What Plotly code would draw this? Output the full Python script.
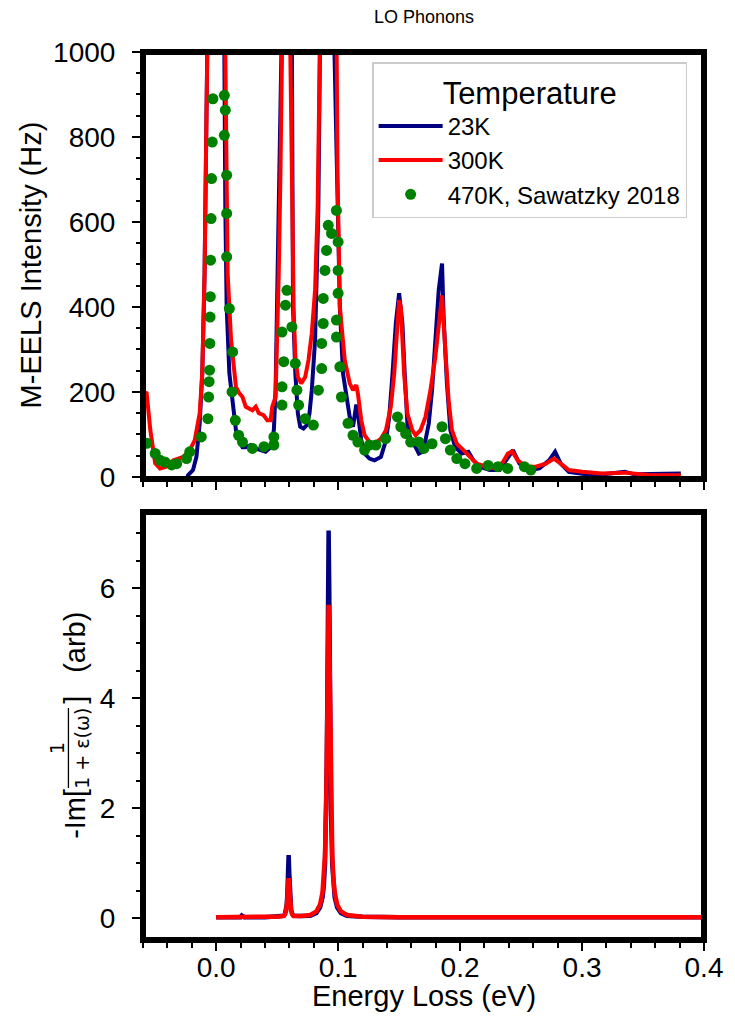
import plotly.graph_objects as go

# ---------------- data ----------------
# M-EELS spectrum, 23 K
e23 = [-0.026, -0.023, -0.019, -0.0162, -0.0135, -0.0114, -0.0095, -0.0081, -0.0065, -0.003, 0.0,
       0.003, 0.0055, 0.0067, 0.0075, 0.0086, 0.0108, 0.0135, 0.0162, 0.0189, 0.0216, 0.0243,
       0.0284, 0.0324, 0.0365, 0.0405, 0.0446, 0.0473, 0.0487, 0.0500, 0.0519, 0.0535, 0.0555,
       0.0578, 0.0600, 0.0621, 0.0630, 0.0649, 0.0670, 0.0689, 0.0716, 0.0743, 0.0765, 0.0784,
       0.0811, 0.0838, 0.0866, 0.0895, 0.0920, 0.0945, 0.0970, 0.0995, 0.1014, 0.1040, 0.1068,
       0.1095, 0.1122, 0.1149, 0.1162, 0.1190, 0.1217, 0.1257, 0.1298, 0.1351, 0.1392, 0.1419,
       0.1446, 0.1473, 0.1500, 0.1527, 0.1546, 0.1568, 0.1595, 0.1635, 0.1662, 0.1690, 0.1716,
       0.1743, 0.1770, 0.1797, 0.1825, 0.1852, 0.1865, 0.1892, 0.1920, 0.1960, 0.2014, 0.2068,
       0.2109, 0.2162, 0.2243, 0.2325, 0.2379, 0.2433, 0.2487, 0.2568, 0.2650, 0.2730, 0.2779,
       0.2825, 0.2892, 0.3028, 0.3180, 0.3350, 0.3430, 0.3700, 0.3810]
i23 = [-20, 4, 16, 47, 126, 244, 480, 790, 1200, 2500, 3000,
       2400, 1250, 1000, 635, 400, 244, 165, 110, 86, 70, 70,
       75, 67, 63, 59, 70, 110, 204, 400, 714, 1000, 1600,
       2000, 1600, 1000, 400, 244, 149, 118, 114, 122, 149, 204,
       322, 635, 1000, 2500, 3000, 2500, 1000, 600, 400, 243, 196,
       141, 118, 170, 149, 86, 55, 43, 39, 47, 86, 141,
       243, 361, 432, 361, 243, 125, 86, 70, 55, 59, 86,
       125, 204, 322, 440, 502, 376, 220, 110, 70, 55, 59,
       39, 24, 16, 16, 39, 63, 31, 16, 20, 39, 59,
       31, 12, 6, 6, 12, 6, 6, 8]

# M-EELS spectrum, 300 K
e300 = [-0.060, -0.057, -0.054, -0.050, -0.046, -0.041, -0.035, -0.027, -0.0217, -0.0176, -0.0135,
        -0.0114, -0.0095, -0.0081, -0.0073, -0.004, 0.0, 0.004, 0.0075, 0.0086, 0.0094, 0.0122,
        0.0148, 0.0162, 0.0189, 0.0216, 0.0243, 0.0270, 0.0297, 0.0324, 0.0350, 0.0390, 0.0419,
        0.0446, 0.0460, 0.0487, 0.0500, 0.0513, 0.0527, 0.0540, 0.0565, 0.0585, 0.0608, 0.0621,
        0.0635, 0.0649, 0.0670, 0.0697, 0.0730, 0.0757, 0.0784, 0.0811, 0.0832, 0.0850, 0.0890,
        0.0920, 0.0950, 0.0988, 0.0995, 0.1014, 0.1054, 0.1095, 0.1122, 0.1149, 0.1162, 0.1190,
        0.1217, 0.1257, 0.1298, 0.1351, 0.1392, 0.1432, 0.1460, 0.1487, 0.1500, 0.1514, 0.1527,
        0.1541, 0.1568, 0.1608, 0.1635, 0.1676, 0.1716, 0.1757, 0.1797, 0.1825, 0.1852, 0.1879,
        0.1906, 0.1933, 0.1973, 0.2027, 0.2081, 0.2136, 0.2217, 0.2298, 0.2352, 0.2392, 0.2427,
        0.2473, 0.2541, 0.2622, 0.2703, 0.2770, 0.2825, 0.2892, 0.3000, 0.3163, 0.3350, 0.3570,
        0.3810]
i300 = [200, 197, 110, 32, 20, 24, 39, 47, 63, 86, 150,
        244, 480, 792, 1000, 2000, 3000, 2000, 1000, 714, 479, 322,
        244, 212, 197, 188, 165, 161, 157, 165, 150, 145, 133,
        133, 165, 188, 322, 479, 714, 1000, 2000, 2000, 1000, 635,
        400, 282, 235, 220, 235, 275, 338, 440, 635, 1000, 2200,
        2600, 2200, 1000, 714, 400, 275, 220, 204, 216, 196, 133,
        98, 82, 78, 90, 110, 165, 243, 361, 416, 400, 322,
        243, 149, 110, 98, 110, 141, 204, 282, 361, 427, 298,
        180, 110, 78, 63, 47, 31, 24, 20, 35, 55, 60,
        39, 24, 24, 31, 43, 31, 16, 12, 8, 10, 4,
        4]

# Sawatzky 2018, 470 K
e470 = [-0.0568, -0.0500, -0.0460, -0.0420, -0.0365, -0.0324, -0.0243, -0.0217, -0.0122, -0.0068,
        -0.0062, -0.0058, -0.0054, -0.0052, -0.0050, -0.0048, -0.0046, -0.0042, -0.0038, -0.0032,
        -0.0027, 0.0067, 0.0075, 0.0067, 0.0086, 0.0086, 0.0086, 0.0108, 0.0135, 0.0130,
        0.0157, 0.0184, 0.0216, 0.0297, 0.0392, 0.0473, 0.0473, 0.0540, 0.0540, 0.0554,
        0.0540, 0.0568, 0.0580, 0.0621, 0.0649, 0.0662, 0.0676, 0.0730, 0.0797, 0.0838,
        0.0865, 0.0865, 0.0878, 0.0878, 0.0892, 0.0905, 0.0919, 0.0946, 0.0986, 0.1000,
        0.1000, 0.1000, 0.0986, 0.0986, 0.1014, 0.1027, 0.1081, 0.1122, 0.1162, 0.1217,
        0.1257, 0.1310, 0.1390, 0.1487, 0.1514, 0.1554, 0.1595, 0.1662, 0.1703, 0.1770,
        0.1852, 0.1880, 0.1920, 0.1973, 0.2040, 0.2136, 0.2230, 0.2311, 0.2390, 0.2527,
        0.2580]
i470 = [79, 55, 39, 35, 28, 31, 43, 59, 94, 137,
        188, 224, 251, 314, 376, 424, 510, 608, 702, 788,
        890, 898, 863, 804, 710, 620, 518, 396, 294, 200,
        133, 98, 82, 67, 71, 75, 94, 169, 212, 271,
        341, 404, 439, 353, 267, 204, 169, 137, 122, 204,
        255, 314, 361, 420, 486, 533, 592, 573, 627, 553,
        486, 432, 369, 329, 259, 188, 126, 98, 82, 63,
        75, 75, 90, 141, 118, 102, 82, 82, 67, 78,
        118, 90, 63, 43, 31, 20, 27, 24, 20, 24,
        16]

# Loss function -Im[1/(1+eps(w))], both temperatures on one energy grid
w_loss = [0.0, 0.020, 0.021, 0.022, 0.023, 0.040, 0.050,
          0.0554, 0.0564, 0.0574, 0.0579, 0.0584, 0.0589, 0.0594,
          0.0599, 0.0604, 0.0609, 0.0614, 0.0624, 0.0634, 0.070,
          0.0772, 0.0822, 0.0852, 0.0872, 0.0882, 0.0892, 0.0902, 0.0907, 0.0912, 0.0917, 0.0922,
          0.0927, 0.0932, 0.0937, 0.0942, 0.0952, 0.0962, 0.0972, 0.0992, 0.1022, 0.1072,
          0.120, 0.150, 0.200, 0.300, 0.400]
l23 = [0.02, 0.02, 0.05, 0.02, 0.02, 0.02, 0.03,
       0.044, 0.077, 0.16, 0.25, 0.45, 0.83, 1.15,
       0.83, 0.45, 0.25, 0.16, 0.077, 0.044, 0.04,
       0.045, 0.098, 0.20, 0.38, 0.58, 0.97, 1.87, 2.82, 4.16, 6.00, 7.05,
       6.00, 4.16, 2.82, 1.87, 0.97, 0.58, 0.38, 0.20, 0.098, 0.045,
       0.03, 0.02, 0.02, 0.02, 0.02]
l300 = [0.02, 0.02, 0.04, 0.02, 0.02, 0.02, 0.03,
        0.043, 0.070, 0.146, 0.22, 0.365, 0.58, 0.73,
        0.58, 0.365, 0.22, 0.146, 0.070, 0.043, 0.04,
        0.06, 0.125, 0.25, 0.47, 0.70, 1.14, 2.05, 2.85, 3.95, 5.13, 5.70,
        5.13, 3.95, 2.85, 2.05, 1.14, 0.70, 0.47, 0.25, 0.125, 0.06,
        0.03, 0.02, 0.02, 0.02, 0.02]

x_ticks = [0.0, 0.1, 0.2, 0.3, 0.4]
y_ticks_top = [0, 200, 400, 600, 800, 1000]
y_ticks_bot = [0, 2, 4, 6]

# ---------------- layout helpers ----------------
W, H = 735, 1026
ML, MR, MT, MB = 143, 24, 52, 86
PW = W - ML - MR
PH = H - MT - MB


def pxx(x):
    return (x - ML) / PW


def pxy(y):
    return (H - MB - y) / PH


FONT = "Liberation Sans, Arial, sans-serif"
NAVY = "#000080"
RED = "#ff0000"
GREEN = "#008000"

top_dom = [pxy(479), 1.0]
bot_dom = [0.0, pxy(512)]

fig = go.Figure()

fig.add_trace(go.Scatter(x=e23, y=i23, mode="lines", name="23K",
                         line=dict(color=NAVY, width=4), xaxis="x", yaxis="y"))
fig.add_trace(go.Scatter(x=e300, y=i300, mode="lines", name="300K",
                         line=dict(color=RED, width=4), xaxis="x", yaxis="y"))
fig.add_trace(go.Scatter(x=e470, y=i470, mode="markers", name="470K, Sawatzky 2018",
                         marker=dict(color=GREEN, size=11), xaxis="x", yaxis="y"))

fig.add_trace(go.Scatter(x=w_loss, y=l23, mode="lines", showlegend=False,
                         line=dict(color=NAVY, width=4.5), xaxis="x2", yaxis="y2"))
fig.add_trace(go.Scatter(x=w_loss, y=l300, mode="lines", showlegend=False,
                         line=dict(color=RED, width=4.5), xaxis="x2", yaxis="y2"))

tickfont = dict(family=FONT, size=28, color="black")
common = dict(showgrid=False, zeroline=False, showline=False, ticks="outside",
              ticklen=10, tickwidth=2, tickcolor="black", tickfont=tickfont)

fig.update_layout(
    width=W, height=H,
    margin=dict(l=ML, r=MR, t=MT, b=MB),
    paper_bgcolor="white", plot_bgcolor="white",
    xaxis=dict(domain=[0, 1], anchor="y", range=[-0.06, 0.4], tickvals=x_ticks,
               showticklabels=False,
               minor=dict(ticks="outside", ticklen=7, tickwidth=1.5, tickcolor="black",
                          dtick=0.02, tick0=0),
               **common),
    yaxis=dict(domain=top_dom, anchor="x", range=[-5, 1000], tickvals=y_ticks_top,
               ticklabelstandoff=11,
               minor=dict(ticks="outside", ticklen=6, tickwidth=1.5, tickcolor="black",
                          dtick=50, tick0=0),
               **common),
    xaxis2=dict(domain=[0, 1], anchor="y2", range=[-0.06, 0.4], tickvals=x_ticks,
                tickformat=".1f", ticklabelstandoff=-8,
                minor=dict(ticks="outside", ticklen=7, tickwidth=1.5, tickcolor="black",
                           dtick=0.02, tick0=0),
                **common),
    yaxis2=dict(domain=bot_dom, anchor="x2", range=[-0.395, 7.387], tickvals=y_ticks_bot,
                ticklabelstandoff=11,
                minor=dict(ticks="outside", ticklen=6, tickwidth=1.5, tickcolor="black",
                           dtick=0.5, tick0=0),
                **common),
    showlegend=True,
    legend=dict(x=pxx(375), y=pxy(62), xanchor="left", yanchor="top",
                bgcolor="white", bordercolor="#cccccc", borderwidth=1.5,
                itemwidth=64,
                font=dict(family=FONT, size=24, color="black"),
                title=dict(text="Temperature", side="top center",
                           font=dict(family=FONT, size=31, color="black"))),
)

# thick frames around both panels
for dom in (top_dom, bot_dom):
    fig.add_shape(type="rect", xref="paper", yref="paper", x0=0, x1=1, y0=dom[0], y1=dom[1],
                  line=dict(color="black", width=6), layer="above")


def label(text, x, y, size, angle=0, family=FONT):
    fig.add_annotation(text=text, x=pxx(x), y=pxy(y), xref="paper", yref="paper",
                       showarrow=False, xanchor="center", yanchor="middle",
                       textangle=angle, font=dict(family=family, size=size, color="black"))


label("LO Phonons", 427, 17, 18)
label("Energy Loss (eV)", 427, 996, 29)
label("M-EELS Intensity (Hz)", 30, 265, 29, angle=-90)

# -Im[ 1 / (1 + eps(w)) ]  (arb)
label("-Im[", 74, 814, 29, angle=-90)
label("1", 56, 748, 19, angle=-90, family="DejaVu Sans")
label("1 + ε(ω)", 81, 748, 19, angle=-90, family="DejaVu Sans")
fig.add_shape(type="line", xref="paper", yref="paper",
              x0=pxx(67.5), x1=pxx(67.5), y0=pxy(708), y1=pxy(788),
              line=dict(color="black", width=1.3))
label("]", 74, 700, 29, angle=-90)
label("(arb)", 74, 642, 29, angle=-90)

fig.write_html("out.html")
